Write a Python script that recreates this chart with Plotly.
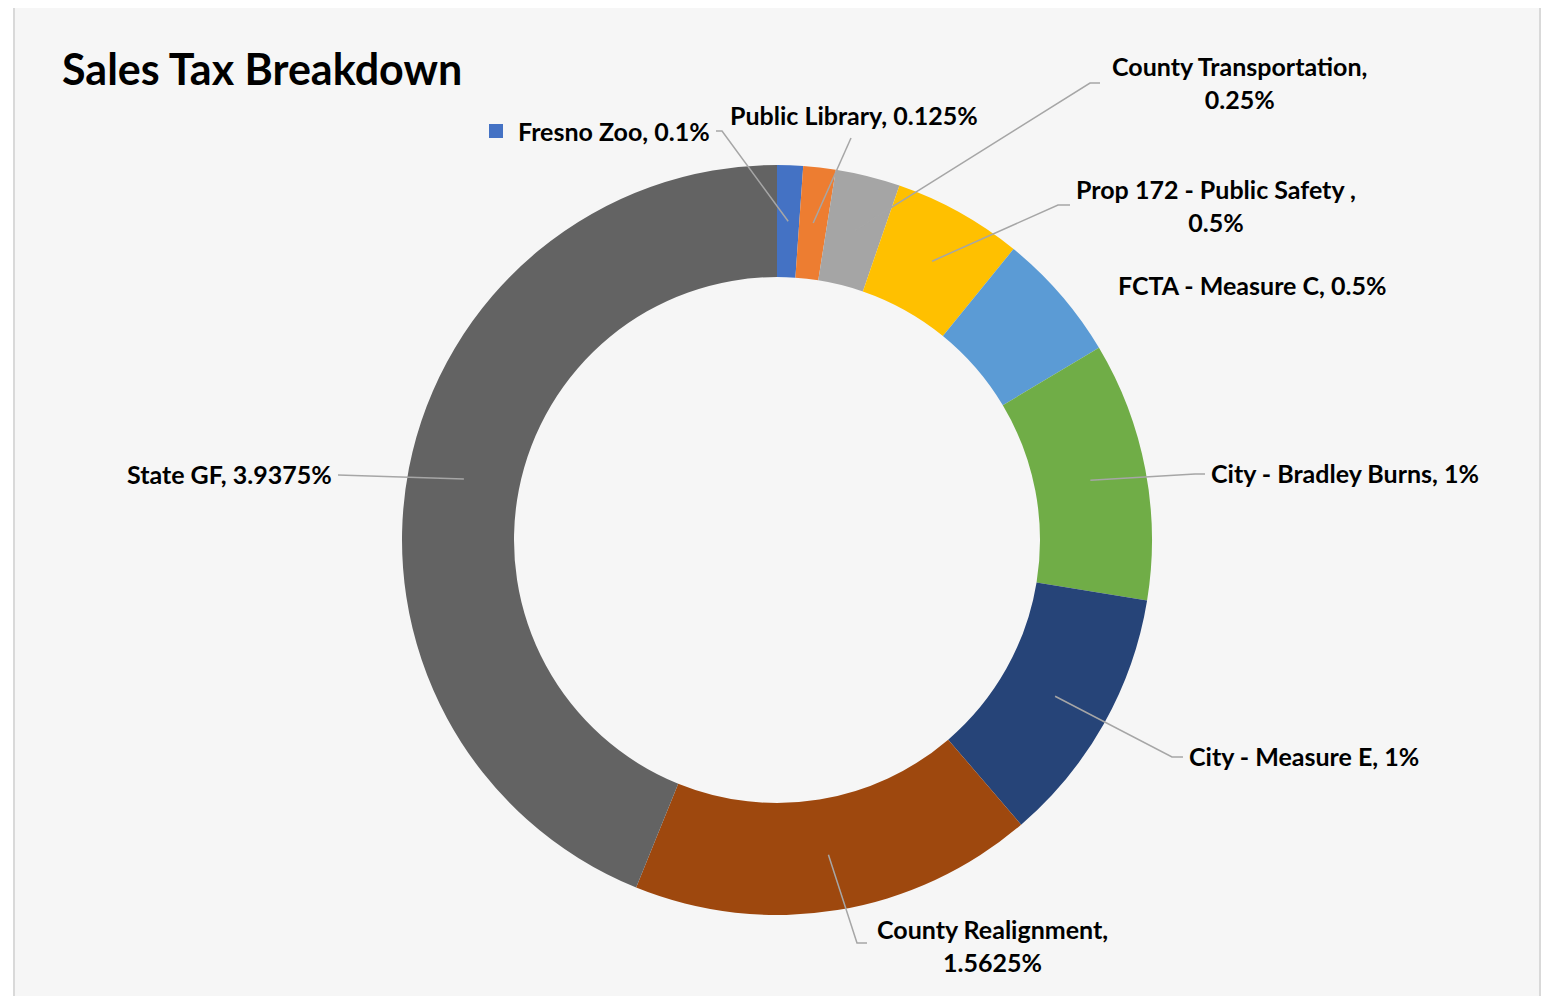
import math
import plotly.graph_objects as go

W, H = 1553, 996
OFF = 8  # page body margin

categories = ["Fresno Zoo", "Public Library", "County Transportation",
              "Prop 172 - Public Safety ", "FCTA - Measure C",
              "City - Bradley Burns", "City - Measure E",
              "County Realignment", "State GF"]
rates = [0.1, 0.125, 0.25, 0.5, 0.5, 1, 1, 1.5625, 3.9375]
colors = ["#4472C4", "#ED7D31", "#A5A5A5", "#FFC000", "#5B9BD5",
          "#70AD47", "#264478", "#9E480E", "#636363"]
wrap = [False, False, True, True, False, False, False, True, False]

# where the data labels sit (pixel centre of the text) and leader line start / elbow
label_pos = [(614, 131), (854, 115), (1239, 82), (1216, 205), (1252, 285),
             (1345, 473), (1304, 756), (992, 945), (229, 474)]
leaders = [[(716, 131), (722, 131)], [(851, 138)], [(1100, 83), (1090, 83)],
           [(1070, 205), (1058, 205)], None, [(1205, 474), (1195, 474)],
           [(1183, 757), (1172, 757)], [(867, 943), (857, 943)], [(338, 475)]]

# donut geometry in pixels
cx, cy, r_out, r_in = 777, 540, 375, 263
font_name = "Lato"


def px(x):
    return (x - OFF) / W


def py(y):
    return 1 - (y - OFF) / H


fig = go.Figure()
fig.add_trace(go.Pie(
    labels=categories,
    values=rates,
    sort=False,
    direction="clockwise",
    rotation=0,
    hole=r_in / r_out,
    marker=dict(colors=colors, line=dict(width=0)),
    textinfo="none",
    hoverinfo="label+value",
    showlegend=False,
    domain=dict(x=[px(cx - r_out), px(cx + r_out)],
                y=[py(cy + r_out), py(cy - r_out)]),
))

shapes = [dict(type="rect", xref="paper", yref="paper",
               x0=px(14), x1=px(1540), y0=py(1010), y1=py(5),
               fillcolor="#f6f6f6", line=dict(color="#d9d9d9", width=2),
               layer="below"),
          dict(type="rect", xref="paper", yref="paper",
               x0=px(489), x1=px(503), y0=py(138), y1=py(124),
               fillcolor=colors[0], line=dict(width=0))]

annotations = [dict(text="<b>Sales Tax Breakdown</b>", xref="paper", yref="paper",
                    x=px(60), y=py(69), xanchor="left", yanchor="middle",
                    showarrow=False, font=dict(family=font_name, size=43, color="#000000"))]

total = sum(rates)
cum = 0
r_mid = (r_out + r_in) / 2
for i, v in enumerate(rates):
    mid = (cum + v / 2) / total * 2 * math.pi
    cum += v
    tip = (cx + r_mid * math.sin(mid), cy - r_mid * math.cos(mid))
    sep = ",<br>" if wrap[i] else ", "
    txt = f"<b>{categories[i]}{sep}{v:g}%</b>"
    lx, ly = label_pos[i]
    annotations.append(dict(text=txt, xref="paper", yref="paper", x=px(lx), y=py(ly),
                            xanchor="center", yanchor="middle", showarrow=False,
                            align="center",
                            font=dict(family=font_name, size=25, color="#000000")))
    if leaders[i]:
        pts = leaders[i] + [tip]
        path = "M " + " L ".join(f"{px(x):.5f},{py(y):.5f}" for x, y in pts)
        shapes.append(dict(type="path", xref="paper", yref="paper", path=path,
                           line=dict(color="#a6a6a6", width=1.5)))

fig.update_layout(
    width=W, height=H,
    margin=dict(l=0, r=0, t=0, b=0),
    paper_bgcolor="#ffffff",
    plot_bgcolor="#ffffff",
    shapes=shapes,
    annotations=annotations,
    font=dict(family=font_name),
)

fig.write_html("out.html")
